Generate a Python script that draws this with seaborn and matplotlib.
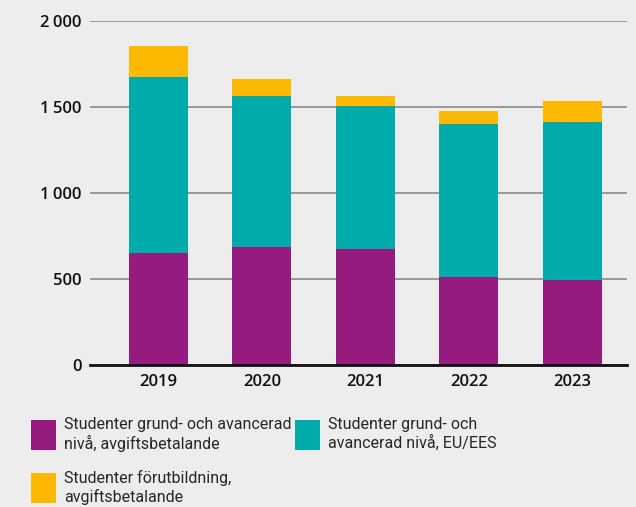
import matplotlib
matplotlib.use("Agg")
import matplotlib.pyplot as plt
import matplotlib.patches as mpatches
import seaborn as sns
import numpy as np
import pandas as pd

# values
years = ["2019", "2020", "2021", "2022", "2023"]
betalande = [655, 688, 676, 513, 496]          # grund- och avancerad, avgiftsbetalande
eu_ees = [1021, 878, 832, 890, 919]            # grund- och avancerad, EU/EES
forutb = [180, 98, 58, 76, 122]                # förutbildning, avgiftsbetalande

labels = ["Studenter grund- och avancerad\nnivå, avgiftsbetalande",
          "Studenter grund- och\navancerad nivå, EU/EES",
          "Studenter förutbildning,\navgiftsbetalande"]
colors = ["#951B7E", "#00ABAA", "#FDB900"]
bg = "#EDEDED"

df = pd.DataFrame({"year": years, "a": betalande, "b": eu_ees, "c": forutb})
df["ab"] = df["a"] + df["b"]
df["abc"] = df["ab"] + df["c"]

sns.set_theme(style="white")
plt.rcParams["font.family"] = ["Open Sans", "DejaVu Sans"]

fig = plt.figure(figsize=(6.36, 5.07), dpi=100, facecolor=bg)
ax = fig.add_axes([0.1415, 0.2795, 0.8445, 0.679])
ax.set_facecolor(bg)

# stacked bars: draw the cumulative totals, tallest first
kw = dict(width=0.57, saturation=1, ax=ax, zorder=3, linewidth=0)
sns.barplot(data=df, x="year", y="abc", color=colors[2], **kw)
sns.barplot(data=df, x="year", y="ab", color=colors[1], **kw)
sns.barplot(data=df, x="year", y="a", color=colors[0], **kw)

ax.set_ylim(0, 2000)
ax.set_xlim(-0.66, 4.53)
ax.set_yticks([0, 500, 1000, 1500, 2000])
ax.set_yticklabels(["0", "500", "1\u2009000", "1\u2009500", "2\u2009000"])
ax.yaxis.grid(True, color="#8a8a8a", linewidth=1.2, zorder=0)
ax.set_axisbelow(True)
for s in ["top", "right", "left"]:
    ax.spines[s].set_visible(False)
ax.spines["bottom"].set_color("#111111")
ax.spines["bottom"].set_linewidth(2)
ax.spines["bottom"].set_zorder(4)
ax.tick_params(axis="both", length=0, labelsize=12, colors="#111111")
ax.tick_params(axis="y", pad=6)
ax.tick_params(axis="x", pad=6)
for t in ax.get_xticklabels() + ax.get_yticklabels():
    t.set_fontweight("semibold")
ax.set_xlabel("")
ax.set_ylabel("")

# legend fills column-wise: purple, yellow | teal
order = [0, 2, 1]
handles = [mpatches.Patch(color=colors[i], linewidth=0) for i in order]
fig.legend(handles, [labels[i] for i in order], loc="upper left",
           bbox_to_anchor=(0.049, 0.178), borderaxespad=0, borderpad=0,
           ncol=2, frameon=False, handlelength=1.56, handleheight=2.5,
           handletextpad=0.5, columnspacing=0.2, labelspacing=1.15,
           prop={"family": ["Roboto", "DejaVu Sans"], "size": 11.5})

fig.savefig("out.png", dpi=100, facecolor=bg)
